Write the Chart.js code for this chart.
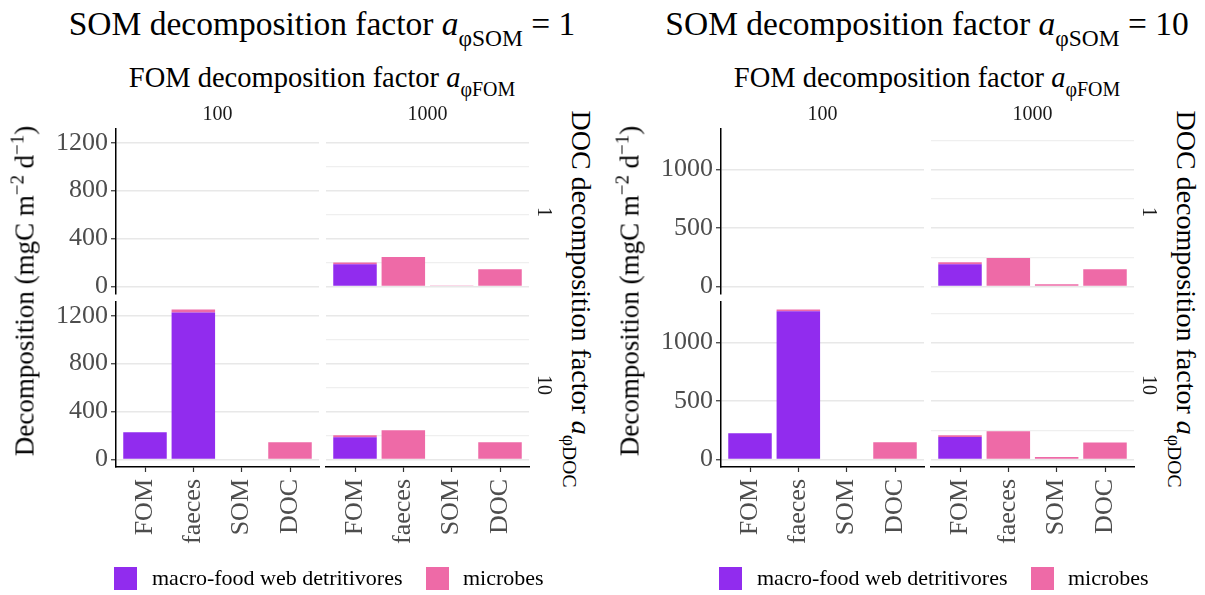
<!DOCTYPE html>
<html>
<head>
<meta charset="utf-8">
<script src="https://cdn.jsdelivr.net/npm/chart.js@4"></script>
<style>
  body { margin: 0; background: #fff; }
  #wrap { position: relative; width: 1205px; height: 595px; overflow: hidden; background: #fff;
          font-family: "Liberation Serif", "Times New Roman", serif; color: #000; }
  canvas { position: absolute; }
  .t { position: absolute; white-space: nowrap; line-height: 1; }
  .key { position: absolute; width: 23px; height: 23px; }
  sub { font-size: 70%; vertical-align: -0.45em; line-height: 0; }
  sup { font-size: 70%; vertical-align: 0.55em; line-height: 0; }
</style>
</head>
<body>
<div id="wrap"></div>
<script>
const categories = ["FOM", "faeces", "SOM", "DOC"];
const seriesNames = ["macro-food web detritivores", "microbes"];
const seriesColors = ["#912CEE", "#EE6AA7"];
const somFactors = ["1", "10"];
const fomFactors = ["100", "1000"];
const docFactors = ["1", "10"];

// SOM factor 1
const som1Fom100Doc1Macro = [null, null, null, null];
const som1Fom100Doc1Microbes = [null, null, null, null];
const som1Fom1000Doc1Macro = [185, 0, 0, 0];
const som1Fom1000Doc1Microbes = [16, 246, 8, 143];
const som1Fom100Doc10Macro = [227, 1227, 0, 0];
const som1Fom100Doc10Microbes = [0, 25, 6, 144];
const som1Fom1000Doc10Macro = [186, 0, 0, 0];
const som1Fom1000Doc10Microbes = [16, 244, 6, 143];

// SOM factor 10
const som10Fom100Doc1Macro = [null, null, null, null];
const som10Fom100Doc1Microbes = [null, null, null, null];
const som10Fom1000Doc1Macro = [190, 0, 0, 0];
const som10Fom1000Doc1Microbes = [17, 244, 20, 148];
const som10Fom100Doc10Macro = [224, 1268, 0, 0];
const som10Fom100Doc10Microbes = [0, 15, 6, 148];
const som10Fom1000Doc10Macro = [193, 0, 0, 0];
const som10Fom1000Doc10Microbes = [14, 241, 21, 146];

const som1Ticks = [0, 400, 800, 1200];
const som1Minor = [200, 600, 1000];
const som10Ticks = [0, 500, 1000];
const som10Minor = [250, 750, 1250];

const FONT = "Liberation Serif";
const wrap = document.getElementById("wrap");

function addText(html, x, y, size, opts = {}) {
  const d = document.createElement("div");
  d.className = "t";
  d.innerHTML = html;
  d.style.left = x + "px";
  d.style.top = y + "px";
  d.style.fontSize = size + "px";
  d.style.color = opts.color || "#000";
  const anchor = opts.left ? "translate(0,-50%)" : "translate(-50%,-50%)";
  d.style.transform = anchor + (opts.rot ? " rotate(" + opts.rot + "deg)" : "");
  wrap.appendChild(d);
}

const W = 203, H = 165;

function facet(x, y, showY, showX, macro, microbes, ticks, minor, yMin, yMax) {
  const padL = showY ? 80 : 4, padR = 4, padT = 8, padB = showX ? 90 : 12;
  const yW = showY ? 70 : 0, xH = showX ? 80 : 0;
  const cv = document.createElement("canvas");
  cv.width = W + padL + padR;
  cv.height = H + padT + padB;
  cv.style.left = (x - padL) + "px";
  cv.style.top = (y - padT) + "px";
  wrap.appendChild(cv);
  const allTicks = ticks.concat(minor).sort((a, b) => a - b);
  const isMinor = v => minor.includes(v);

  new Chart(cv, {
    type: "bar",
    data: {
      datasets: [
        { label: seriesNames[0], data: macro.map((v, i) => ({ x: i + 1, y: v })), backgroundColor: seriesColors[0] },
        { label: seriesNames[1], data: microbes.map((v, i) => ({ x: i + 1, y: v })), backgroundColor: seriesColors[1] }
      ]
    },
    options: {
      responsive: false,
      animation: false,
      devicePixelRatio: 1,
      layout: { padding: { left: padL - yW, right: padR, top: padT, bottom: padB - xH } },
      plugins: { legend: { display: false }, tooltip: { enabled: false } },
      datasets: { bar: { categoryPercentage: 1, barPercentage: 0.9, borderWidth: 0 } },
      scales: {
        x: {
          type: "linear", min: 0.4, max: 4.6, stacked: true, display: showX, offset: false,
          afterBuildTicks: s => { s.ticks = categories.map((c, i) => ({ value: i + 1 })); },
          afterFit: s => { s.height = xH; s.paddingLeft = 0; s.paddingRight = 0; },
          ticks: {
            autoSkip: false, minRotation: 90, maxRotation: 90, padding: 7,
            color: "#4D4D4D", font: { family: FONT, size: 26 },
            callback: v => categories[Math.round(v) - 1]
          },
          grid: { display: true, offset: false, drawOnChartArea: false, drawTicks: true, tickLength: 5, tickColor: "#333", tickWidth: 1.2 },
          border: { display: true, color: "#000", width: 1.5 }
        },
        y: {
          type: "linear", min: yMin, max: yMax, stacked: true,
          afterBuildTicks: s => { s.ticks = allTicks.map(v => ({ value: v })); },
          afterFit: s => { s.width = yW; s.paddingTop = 0; s.paddingBottom = 0; },
          ticks: {
            display: showY, padding: 3, color: "#4D4D4D", font: { family: FONT, size: 26 },
            callback: v => isMinor(v) ? "" : String(v)
          },
          grid: {
            drawTicks: showY, tickLength: 5, tickWidth: 1.2,
            color: c => isMinor(c.tick.value) ? "#EFEFEF" : "#E8E8E8",
            lineWidth: c => isMinor(c.tick.value) ? 1.2 : 1.5,
            tickColor: c => isMinor(c.tick.value) ? "rgba(0,0,0,0)" : "#333"
          },
          border: { display: showY, color: "#000", width: 1.5 }
        }
      }
    }
  });
}

function stackMax(list) {
  let m = 0;
  for (let k = 0; k < list.length; k += 2) {
    list[k].forEach((v, i) => { m = Math.max(m, (v || 0) + (list[k + 1][i] || 0)); });
  }
  return m;
}

function panel(dx, som, grid, ticks, minor) {
  const top = stackMax(grid.flat(2));
  const pad = top * 0.05;
  const colX = [116 + dx, 326 + dx];
  const rowY = [129, 302];
  for (let r = 0; r < 2; r++) {
    for (let c = 0; c < 2; c++) {
      const g = grid[r][c];
      facet(colX[c], rowY[r], c === 0, r === 1, g[0], g[1], ticks, minor, -pad, top + pad);
    }
  }
  addText("SOM decomposition factor <i>a</i><sub>φSOM</sub> = " + som, 322 + dx, 24, 33.5);
  addText("FOM decomposition factor <i>a</i><sub>φFOM</sub>", 322 + dx, 78, 28.5);
  addText(fomFactors[0], colX[0] + W / 2, 113, 20, { color: "#1A1A1A" });
  addText(fomFactors[1], colX[1] + W / 2, 113, 20, { color: "#1A1A1A" });
  addText(docFactors[0], 545 + dx, rowY[0] + H / 2, 20, { rot: 90, color: "#1A1A1A" });
  addText(docFactors[1], 545 + dx, rowY[1] + H / 2, 20, { rot: 90, color: "#1A1A1A" });
  addText("DOC decomposition factor <i>a</i><sub>φDOC</sub>", 581 + dx, 299, 28, { rot: 90 });
  addText("Decomposition (mgC m<sup>−2</sup> d<sup>−1</sup>)", 25 + dx, 291, 27, { rot: -90 });

  const keys = [[114, 152], [426, 463]];
  keys.forEach((k, i) => {
    const sq = document.createElement("div");
    sq.className = "key";
    sq.style.left = (k[0] + dx) + "px";
    sq.style.top = "567px";
    sq.style.background = seriesColors[i];
    wrap.appendChild(sq);
    addText(seriesNames[i], k[1] + dx, 578, 22, { left: true });
  });
}

panel(0, somFactors[0], [
  [[som1Fom100Doc1Macro, som1Fom100Doc1Microbes], [som1Fom1000Doc1Macro, som1Fom1000Doc1Microbes]],
  [[som1Fom100Doc10Macro, som1Fom100Doc10Microbes], [som1Fom1000Doc10Macro, som1Fom1000Doc10Microbes]]
], som1Ticks, som1Minor);

panel(605, somFactors[1], [
  [[som10Fom100Doc1Macro, som10Fom100Doc1Microbes], [som10Fom1000Doc1Macro, som10Fom1000Doc1Microbes]],
  [[som10Fom100Doc10Macro, som10Fom100Doc10Microbes], [som10Fom1000Doc10Macro, som10Fom1000Doc10Microbes]]
], som10Ticks, som10Minor);
</script>
</body>
</html>
